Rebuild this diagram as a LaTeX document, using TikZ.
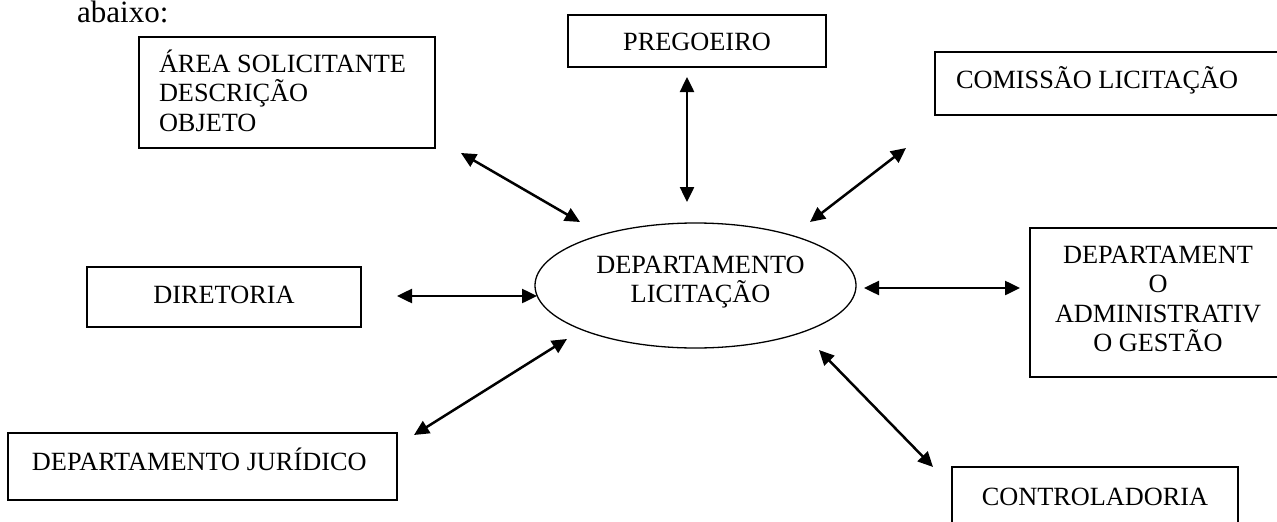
\documentclass[tikz,border=0pt]{standalone}
\usepackage{fontspec}
\setmainfont{Liberation Serif}
\usetikzlibrary{arrows.meta,shapes.geometric}
% #1 width, #2 height, #3 alignment, #4 first-baseline offset, #5 text
\newcommand\boxtxt[5]{\parbox[c][#2pt][t]{#1pt}{#3\rule{0pt}{#4pt}#5}}
\newcommand\ctr{\centering}
\newcommand\ctrs[1]{\centering\leftskip=#1pt plus 1fil\relax}
\newcommand\lft[1]{\raggedright\leftskip=#1pt\relax}
\tikzset{
  txt/.style={font=\fontsize{26.3}{29.5}\selectfont},
  bodytxt/.style={font=\fontsize{31}{35}\selectfont},
  orgbox/.style={txt, draw, line width=1.5pt, inner sep=0pt, outer sep=0pt, anchor=north west},
  hub/.style={txt, draw, ellipse, line width=1.3pt, inner sep=0pt},
  link/.style={line width=2.5pt, {Triangle[length=15pt,width=14pt]}-{Triangle[length=15pt,width=14pt]}}
}
\begin{document}
\begin{tikzpicture}[x=1pt, y=-1pt]
\useasboundingbox (0,0) rectangle (1277,522);
\clip (0,0) rectangle (1277,522);
\fill[white] (0,0) rectangle (1277,522);

\node[bodytxt, anchor=base west, inner sep=0pt] (intro) at (77,22) {abaixo:};

\node[orgbox] (area) at (139,37) {\boxtxt{296}{111}{\lft{20}}{35}{ÁREA SOLICITANTE\\DESCRIÇÃO\\OBJETO}};
\node[orgbox] (preg) at (568,15) {\boxtxt{258}{52}{\ctr}{35}{PREGOEIRO}};
\node[orgbox] (comis) at (935,52) {\boxtxt{360}{63}{\lft{21}}{36}{COMISSÃO LICITAÇÃO}};
\node[orgbox] (dir) at (87,267) {\boxtxt{274}{60}{\ctr}{36}{DIRETORIA}};
\node[orgbox] (adm) at (1030,228) {\boxtxt{256}{149}{\ctr}{35}{DEPARTAMENT\\O\\ADMINISTRATIV\\O GESTÃO}};
\node[orgbox] (jur) at (8,433) {\boxtxt{389}{67}{\lft{24}}{37}{DEPARTAMENTO JURÍDICO}};
\node[orgbox] (ctrl) at (952,467) {\boxtxt{286}{80}{\ctr}{38}{CONTROLADORIA}};

\node[hub, minimum width=321pt, minimum height=125pt] (hub) at (695.5,285.5)
  {\boxtxt{227}{88}{\ctrs{10}}{31.5}{DEPARTAMENTO\\LICITAÇÃO}};

\coordinate (areaA) at (461,153);  \coordinate (areaB) at (580,222);
\coordinate (pregA) at (687,77);   \coordinate (pregB) at (687,202);
\coordinate (comisA) at (906,148); \coordinate (comisB) at (810,222);
\coordinate (dirA) at (397,296);   \coordinate (dirB) at (537,296);
\coordinate (admA) at (1020,288);  \coordinate (admB) at (864,288);
\coordinate (jurA) at (414,435);   \coordinate (jurB) at (567,339);
\coordinate (ctrlA) at (933,467);  \coordinate (ctrlB) at (819,350);

\draw[link] (areaA) -- (areaB);
\draw[link] (pregA) -- (pregB);
\draw[link] (comisA) -- (comisB);
\draw[link] (dirA) -- (dirB);
\draw[link] (admA) -- (admB);
\draw[link] (jurA) -- (jurB);
\draw[link] (ctrlA) -- (ctrlB);
\end{tikzpicture}
\end{document}
